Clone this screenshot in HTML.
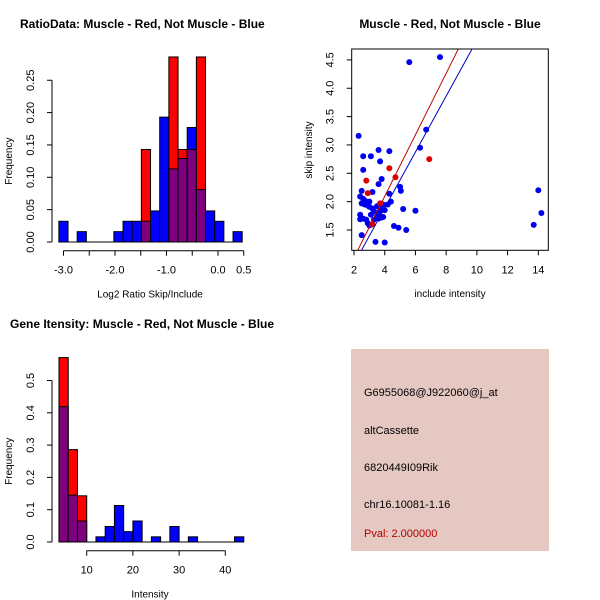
<!DOCTYPE html>
<html><head><meta charset="utf-8"><style>
body{margin:0;background:#fff}
svg{display:block;font-family:"Liberation Sans",Arial,sans-serif}
</style></head><body>
<svg width="600" height="600" viewBox="0 0 600 600">
<g id="c1"></g>
<g id="c2"></g>
<g id="c3"></g>
<g>
<rect x="351" y="349" width="198" height="202" fill="#e5c8c2"/>
<text x="364" y="396" font-size="11">G6955068@J922060@j_at</text>
<text x="364" y="434" font-size="11">altCassette</text>
<text x="364" y="471" font-size="11">6820449I09Rik</text>
<text x="364" y="508" font-size="11">chr16.10081-1.16</text>
<text x="364" y="537" font-size="11" fill="#b00000">Pval: 2.000000</text>
</g>
</svg>
<script>
const NS='http://www.w3.org/2000/svg';
// ---- chart 1 data
const h1Start=-3.09, h1Width=0.178;
const h1Blue=[0.032,0,0.016,0,0,0,0.016,0.032,0.032,0.032,0.048,0.193,0.113,0.129,0.177,0.081,0.048,0.032,0,0.016];
const h1Red=[0,0,0,0,0,0,0,0,0,0.143,0,0,0.286,0.143,0.143,0.286,0,0,0,0];
const h1YTicks=[0,0.05,0.10,0.15,0.20,0.25];
const h1YLabels=["0.00","0.05","0.10","0.15","0.20","0.25"];
const h1XTicks=[-3,-2.5,-2,-1.5,-1,-0.5,0,0.5];
const h1XLabels=["-3.0","","-2.0","","-1.0","","0.0","0.5"];
// ---- chart 2 data
const scBlueX=[2.3,5.6,7.6,2.6,3.1,3.6,4.3,3.7,6.3,6.7,2.6,3.8,3.6,5.0,5.05,4.3,2.5,3.2,2.4,2.6,2.7,2.8,2.9,3.0,2.5,2.7,2.9,3.0,3.2,3.5,3.7,3.9,4.2,3.8,4.0,3.3,3.6,2.4,3.1,3.5,3.8,3.9,2.4,2.6,2.8,3.3,3.6,2.9,3.0,5.2,6.0,4.6,4.9,5.4,2.5,3.4,4.0,13.7,14.0,14.2,4.4];
const scBlueY=[3.16,4.46,4.55,2.80,2.80,2.91,2.89,2.71,2.95,3.27,2.56,2.40,2.31,2.26,2.19,2.14,2.19,2.17,2.09,2.05,2.02,2.0,1.98,2.0,1.97,1.95,1.93,1.91,1.88,1.92,1.88,1.95,1.95,1.85,1.85,1.83,1.8,1.77,1.77,1.75,1.72,1.73,1.69,1.70,1.68,1.68,1.7,1.62,1.58,1.87,1.84,1.57,1.54,1.50,1.41,1.29,1.28,1.59,2.2,1.8,2.0];
const scRedX=[2.8,2.9,4.3,4.7,3.7,6.9,3.2];
const scRedY=[2.37,2.15,2.59,2.43,1.97,2.75,1.6];
const fitRed=[0.542,-0.073];
const fitBlue=[0.493,-0.083];
const scXTicks=[2,4,6,8,10,12,14];
const scYTicks=[1.5,2.0,2.5,3.0,3.5,4.0,4.5];
// ---- chart 3 data
const h3Start=4, h3Width=2;
const h3Blue=[0.419,0.145,0.065,0,0.016,0.048,0.113,0.032,0.065,0,0.016,0,0.048,0,0.016,0,0,0,0,0.016];
const h3Red=[0.571,0.286,0.143,0,0,0,0,0,0,0,0,0,0,0,0,0,0,0,0,0];
const h3YTicks=[0,0.1,0.2,0.3,0.4,0.5];
const h3YLabels=["0.0","0.1","0.2","0.3","0.4","0.5"];
const h3XTicks=[10,20,30,40];

function el(parent,tag,attrs,name,text){
  const e=document.createElementNS(NS,tag);
  for(const k in attrs)e.setAttribute(k,attrs[k]);
  
  
  if(text!==undefined)e.textContent=text;
  parent.appendChild(e);return e;
}
function hist(g,start,w,blue,red,xs,ys,yTicks,yLabels,xTicks,xLabels,axisY,yAxisX,title,xlab,titleY,titleX){
  for(let i=0;i<blue.length;i++){
    const x0=xs(start+i*w),x1=xs(start+(i+1)*w);
    const b=blue[i],r=red[i];
    const mx=Math.max(b,r),mn=Math.min(b,r);
    if(mx>0){
      el(g,'rect',{x:x0,y:ys(mx),width:x1-x0,height:ys(0)-ys(mx),fill:r>b?'#ff0000':'#0000ff',stroke:'#000','stroke-width':1},'bar-'+i);
      if(mn>0) el(g,'rect',{x:x0,y:ys(mn),width:x1-x0,height:ys(0)-ys(mn),fill:'#7f007f',stroke:'#000','stroke-width':1},'bar-overlap-'+i);
    }
  }
  el(g,'line',{x1:xs(start),x2:xs(start+blue.length*w),y1:ys(0),y2:ys(0),stroke:'#000'},'baseline');
  el(g,'line',{x1:yAxisX,x2:yAxisX,y1:ys(yTicks[0]),y2:ys(yTicks[yTicks.length-1]),stroke:'#000'},'y-axis');
  yTicks.forEach((t,i)=>{
    el(g,'line',{x1:yAxisX-5,x2:yAxisX,y1:ys(t),y2:ys(t),stroke:'#000'},'y-tick');
    const ty=ys(t);
    el(g,'text',{x:yAxisX-18,y:ty,transform:`rotate(-90 ${yAxisX-18} ${ty})`,'text-anchor':'middle','font-size':11},'y-tick-label',yLabels[i]);
  });
  el(g,'line',{x1:xs(xTicks[0]),x2:xs(xTicks[xTicks.length-1]),y1:axisY,y2:axisY,stroke:'#000'},'x-axis');
  xTicks.forEach((t,i)=>{
    el(g,'line',{x1:xs(t),x2:xs(t),y1:axisY,y2:axisY+5,stroke:'#000'},'x-tick');
    if(xLabels[i]) el(g,'text',{x:xs(t),y:axisY+23,'text-anchor':'middle','font-size':11},'x-tick-label',xLabels[i]);
  });
  el(g,'text',{x:titleX,y:titleY,'font-size':12,'font-weight':'bold'},'chart-title',title);
  el(g,'text',{x:150,y:axisY+47,'text-anchor':'middle','font-size':10},'x-axis-title',xlab);
  const fy=(ys(0)+ys(yTicks[yTicks.length-1]))/2;
  el(g,'text',{x:12,y:fy,transform:`rotate(-90 12 ${fy})`,'text-anchor':'middle','font-size':10},'y-axis-title','Frequency');
}
// chart 1
const x1=v=>218+51.5*v, y1=f=>242-647*f;
hist(document.getElementById('c1'),h1Start,h1Width,h1Blue,h1Red,x1,y1,h1YTicks,h1YLabels,h1XTicks,h1XLabels,250.7,52,'RatioData: Muscle - Red, Not Muscle - Blue','Log2 Ratio Skip/Include',28,20);
// chart 3
const x3=v=>40.5+4.62*v, y3=f=>542-323*f;
hist(document.getElementById('c3'),h3Start,h3Width,h3Blue,h3Red,x3,y3,h3YTicks,h3YLabels,h3XTicks,h3XTicks.map(String),550.7,52,'Gene Itensity: Muscle - Red, Not Muscle - Blue','Intensity',328,10);
// chart 2
(function(){
  const g=document.getElementById('c2');
  const xs=v=>354+(v-2)*15.36, ys=v=>230-(v-1.5)*56.7;
  const L=351.7,R=548.3,T=49,B=250.3;
  const defs=el(g,'defs',{},'clip-defs');
  const cp=el(defs,'clipPath',{id:'cp2'},'plot-clip');
  el(cp,'rect',{x:L,y:T,width:R-L,height:B-T},'clip-rect');
  const pg=el(g,'g',{'clip-path':'url(#cp2)'},'plot-area');
  scBlueX.forEach((x,i)=>el(pg,'circle',{cx:xs(x),cy:ys(scBlueY[i]),r:3,fill:'#0000f0'},'point-blue'));
  scRedX.forEach((x,i)=>el(pg,'circle',{cx:xs(x),cy:ys(scRedY[i]),r:3,fill:'#e00000'},'point-red'));
  [[fitRed,'#c00000','fit-line-red'],[fitBlue,'#0000c0','fit-line-blue']].forEach(([f,c,n])=>{
    el(pg,'line',{x1:xs(1),y1:ys(f[0]*1+f[1]),x2:xs(15),y2:ys(f[0]*15+f[1]),stroke:c,'stroke-width':1},n);
  });
  el(g,'rect',{x:L,y:T,width:R-L,height:B-T,fill:'none',stroke:'#000'},'plot-box');
  scXTicks.forEach(t=>{
    el(g,'line',{x1:xs(t),x2:xs(t),y1:B,y2:B+5,stroke:'#000'},'x-tick');
    el(g,'text',{x:xs(t),y:B+23,'text-anchor':'middle','font-size':11},'x-tick-label',String(t));
  });
  scYTicks.forEach(t=>{
    const ty=ys(t);
    el(g,'line',{x1:L-5,x2:L,y1:ty,y2:ty,stroke:'#000'},'y-tick');
    el(g,'text',{x:L-18,y:ty,transform:`rotate(-90 ${L-18} ${ty})`,'text-anchor':'middle','font-size':11},'y-tick-label',t.toFixed(1));
  });
  el(g,'text',{x:450,y:28,'text-anchor':'middle','font-size':12,'font-weight':'bold'},'chart-title','Muscle - Red, Not Muscle - Blue');
  el(g,'text',{x:450,y:297,'text-anchor':'middle','font-size':10},'x-axis-title','include intensity');
  el(g,'text',{x:312,y:150,transform:'rotate(-90 312 150)','text-anchor':'middle','font-size':10},'y-axis-title','skip intensity');
})();
</script>
</body></html>
